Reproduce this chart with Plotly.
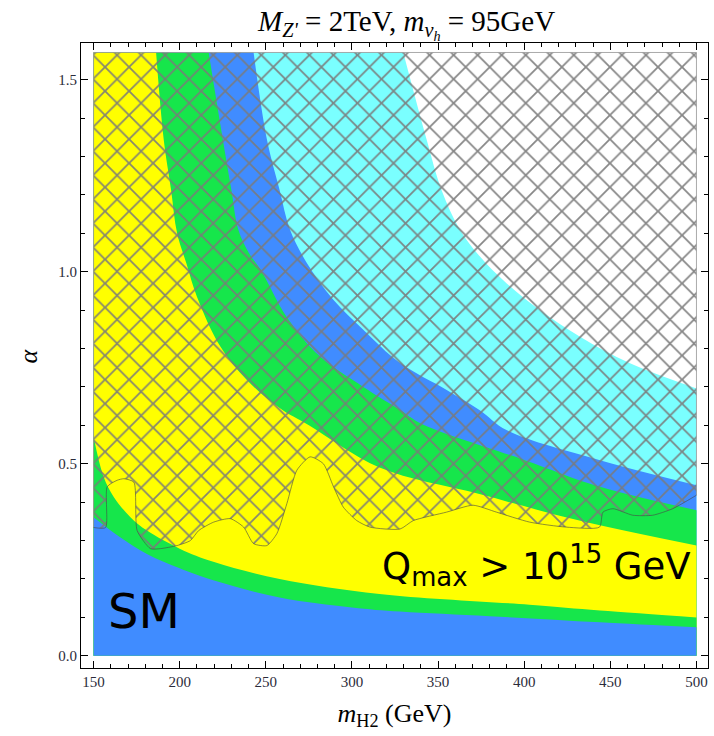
import math
import plotly.graph_objects as go

# Parameter plane: m_H2 (GeV) on x, mixing angle alpha on y
M_MIN, M_MAX = 150, 500
ALPHA_MAX = math.pi / 2

# Boundary curves (m_H2, alpha) separating the coloured bands, from bottom to top
b1_m = [150, 165, 181, 200, 220, 258, 300, 328, 380, 444, 500]
b1_a = [0.361, 0.31, 0.265, 0.228, 0.196, 0.152, 0.126, 0.115, 0.103, 0.087, 0.074]

b2_m = [150, 155.8, 161.8, 171.4, 181, 200, 220, 258, 316, 403, 444, 500]
b2_a = [0.57, 0.466, 0.413, 0.361, 0.326, 0.279, 0.244, 0.20, 0.161, 0.133, 0.118, 0.10]

b3_m = [186.3, 190.7, 195, 198.5, 204, 210, 223.6, 239, 258, 275, 316, 374, 432, 500]
b3_a = [1.571, 1.345, 1.213, 1.10, 1.02, 0.935, 0.805, 0.718, 0.645, 0.60, 0.49, 0.421, 0.352, 0.287]

b4_m = [216.8, 225, 230, 234, 240, 247, 262, 281.5, 306.6, 328, 340, 400, 444, 500]
b4_a = [1.571, 1.345, 1.213, 1.11, 1.05, 1.005, 0.883, 0.779, 0.70, 0.64, 0.605, 0.51, 0.44, 0.379]

b5_m = [242.9, 250.6, 258, 264, 273.8, 289.2, 306.6, 328, 355, 374, 390, 444, 500]
b5_a = [1.571, 1.345, 1.213, 1.11, 1.023, 0.927, 0.849, 0.762, 0.692, 0.64, 0.587, 0.509, 0.444]

b6_m = [329.8, 343.3, 352, 362.6, 374.2, 389.7, 409, 432.2, 461.1, 500]
b6_a = [1.571, 1.345, 1.213, 1.11, 1.04, 0.97, 0.90, 0.831, 0.762, 0.696]

# Lower edge of the hatched (excluded) region
hatch_m = [150, 157, 157.9, 163.7, 167.6, 173.4, 175.3, 183, 188.8, 198.5, 206.2, 211,
           219.7, 229.4, 237.1, 242.9, 250.6, 256.4, 262.2, 268, 275.7, 283.4, 289.3,
           295, 302.8, 310.5, 327.9, 335.6, 354.9, 370.3, 383.9, 403.2, 424.4, 443.7,
           445.7, 451.5, 463, 474.6, 486.2, 500]
hatch_a = [0.334, 0.334, 0.44, 0.457, 0.461, 0.452, 0.326, 0.279, 0.279, 0.287, 0.30, 0.326,
           0.348, 0.357, 0.335, 0.292, 0.287, 0.318, 0.396, 0.483, 0.518, 0.50, 0.44,
           0.387, 0.352, 0.335, 0.33, 0.352, 0.374, 0.392, 0.374, 0.348, 0.335, 0.335,
           0.374, 0.383, 0.366, 0.366, 0.383, 0.418]

YELLOW = "#FFFF00"
GREEN = "#16E64B"
BLUE = "#408CFF"
CYAN = "#7AFFFF"

# Painted from the highest boundary down; each fill covers everything below its curve
bands = [
    (b6_m, b6_a, CYAN),
    (b5_m, b5_a, BLUE),
    (b4_m, b4_a, GREEN),
    (b3_m, b3_a, YELLOW),
    (b2_m, b2_a, GREEN),
    (b1_m, b1_a, BLUE),
]

fig = go.Figure()

for cm, ca, color in bands:
    if cm[0] > M_MIN:
        base_x, base_y = [M_MIN, M_MIN, M_MAX], [ALPHA_MAX, 0, 0]
    else:
        base_x, base_y = [M_MIN, M_MAX], [0, 0]
    fig.add_trace(go.Scatter(x=base_x, y=base_y, mode="lines", line=dict(width=0),
                             hoverinfo="skip", showlegend=False))
    fig.add_trace(go.Scatter(x=cm, y=ca, mode="lines",
                             line=dict(width=0, shape="spline", smoothing=1.0, simplify=False),
                             fill="tonexty", fillcolor=color,
                             hoverinfo="skip", showlegend=False))

# Hatched region: outer border, then the wiggly lower edge filled up to it
fig.add_trace(go.Scatter(x=[M_MIN, M_MIN, M_MAX, M_MAX],
                         y=[hatch_a[0], ALPHA_MAX, ALPHA_MAX, hatch_a[-1]],
                         mode="lines", line=dict(width=1, color="rgba(150,150,150,0.8)"),
                         hoverinfo="skip", showlegend=False))
fig.add_trace(go.Scatter(x=hatch_m, y=hatch_a, mode="lines",
                         line=dict(width=1, color="rgba(70,70,70,0.6)",
                                   shape="spline", smoothing=0.6, simplify=False),
                         fill="tonexty", fillcolor="rgba(0,0,0,0)",
                         fillpattern=dict(shape="x", fgcolor="#7a7a7a", fgopacity=0.9,
                                          size=17, solidity=0.2),
                         hoverinfo="skip", showlegend=False))

serif = "Liberation Serif"
tick_font = dict(family=serif, size=15, color="#2b2b3a")

fig.update_layout(
    width=714, height=736,
    margin=dict(l=81, r=6, t=43, b=68),
    paper_bgcolor="white", plot_bgcolor="white",
    showlegend=False,
    xaxis=dict(
        range=[142.7, 506.7], tickmode="linear", tick0=150, dtick=50,
        ticks="inside", ticklen=7, tickwidth=1, tickcolor="black",
        showline=True, linecolor="black", linewidth=1, mirror="ticks",
        showgrid=False, zeroline=False, tickfont=tick_font,
        minor=dict(dtick=10, tick0=150, ticks="inside", ticklen=4, tickcolor="black", showgrid=False),
        title=dict(text="<i>m</i><sub>H2</sub> (GeV)", font=dict(family=serif, size=26, color="black"),
                   standoff=14),
    ),
    yaxis=dict(
        range=[-0.0318, 1.5955], tickmode="linear", tick0=0, dtick=0.5, tickformat=".1f",
        ticks="inside", ticklen=7, tickwidth=1, tickcolor="black",
        showline=True, linecolor="black", linewidth=1, mirror="ticks",
        showgrid=False, zeroline=False, tickfont=tick_font,
        minor=dict(dtick=0.1, tick0=0, ticks="inside", ticklen=4, tickcolor="black", showgrid=False),
    ),
)

# Axis label for alpha, rotated alongside the frame
fig.add_annotation(x=-0.083, y=0.5, xref="paper", yref="paper", xanchor="center", yanchor="middle",
                   text="<i>α</i>", textangle=-90, showarrow=False,
                   font=dict(family=serif, size=26, color="black"))

fig.add_annotation(
    x=0.518, y=1, xref="paper", yref="paper", xanchor="center", yanchor="middle", yshift=19,
    text="<i>M</i><sub><i>Z'</i></sub> = 2TeV, <i>m</i><sub><i>ν<sub>h</sub></i></sub> = 95GeV",
    showarrow=False, font=dict(family=serif, size=29, color="black"),
)

fig.add_annotation(x=179.4, y=0.116, text="SM", showarrow=False, xanchor="center", yanchor="middle",
                   font=dict(family="DejaVu Sans", size=48, color="black"))
fig.add_annotation(x=316.3, y=0.236, text="Q<sub>max</sub> > 10<sup>15</sup> GeV", showarrow=False,
                   xanchor="left", yanchor="middle",
                   font=dict(family="DejaVu Sans", size=37, color="black"))

fig.write_html("out.html")
